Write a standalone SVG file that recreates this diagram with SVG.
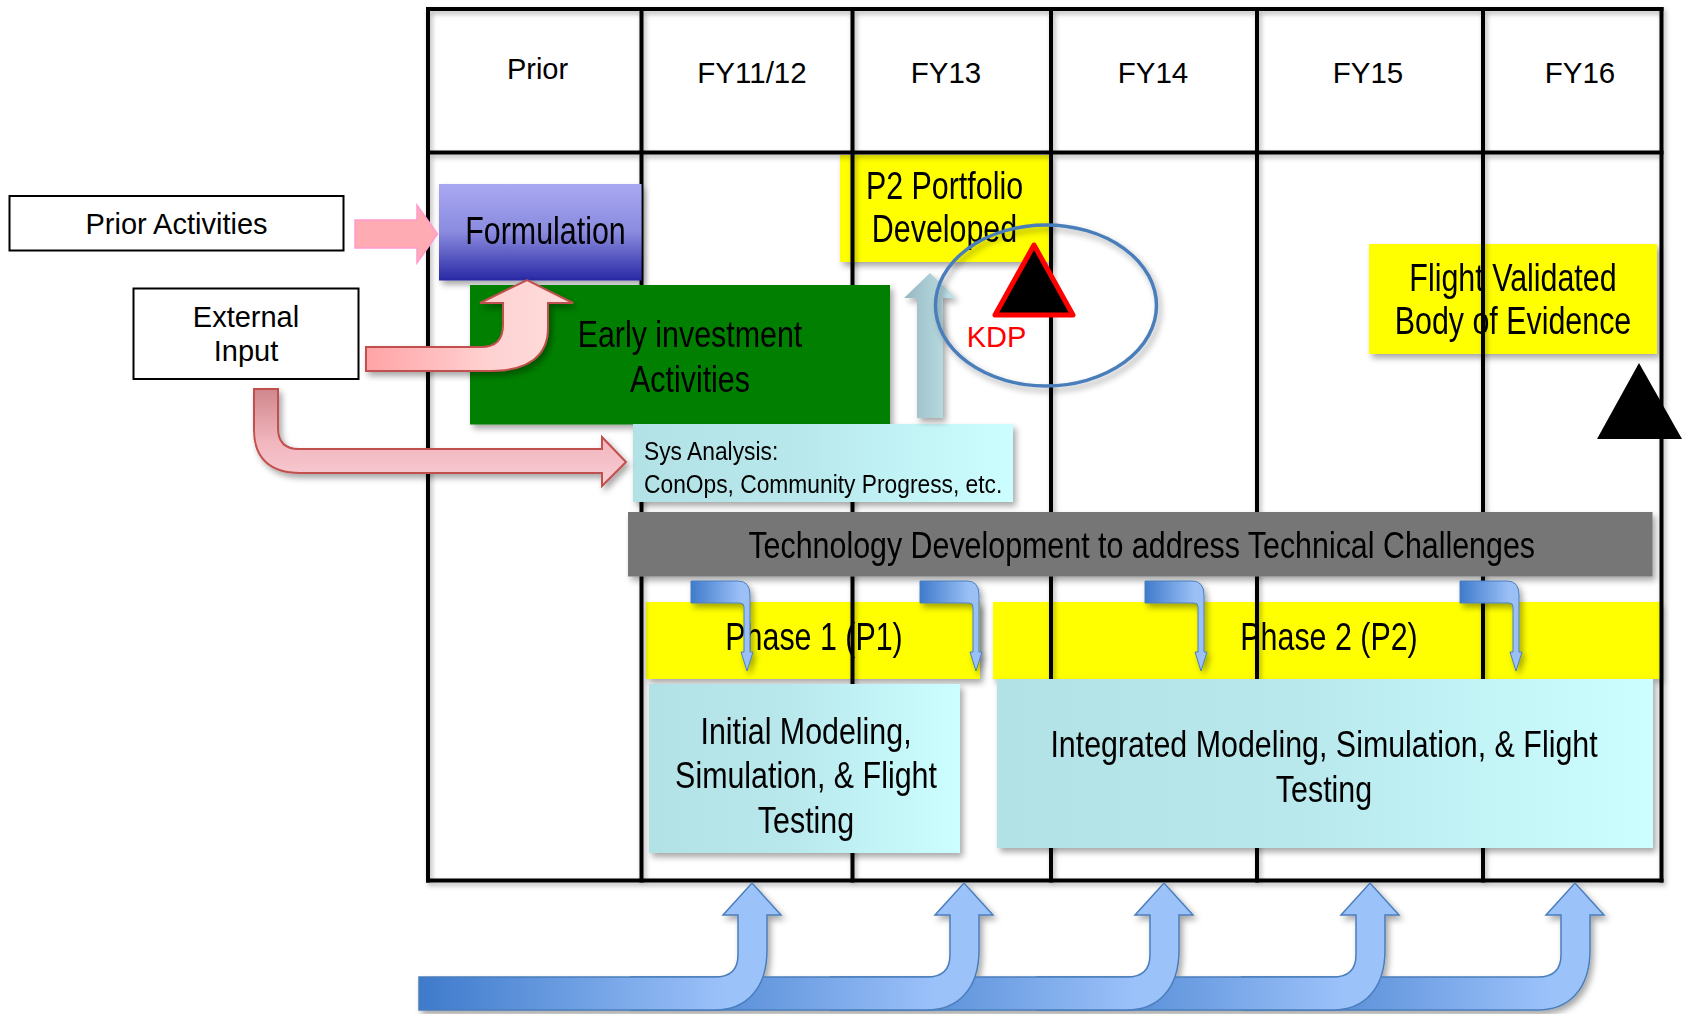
<svg xmlns="http://www.w3.org/2000/svg" width="1682" height="1014" viewBox="0 0 1682 1014">
<style>
.t{font-family:"Liberation Sans",Arial,sans-serif;fill:#000}
.h{font-size:29px;text-anchor:middle}
.b{font-size:30.4px;text-anchor:middle}
.grid line{stroke:#000;stroke-width:4;stroke-linecap:square}
.yel{fill:#FFFF00}
.lbl{fill:#fff;stroke:#000;stroke-width:2}
.blueA{fill:url(#gBlue);stroke:#4A7EBB;stroke-width:1.5}
.bent{fill:url(#gBent);stroke:#4A7EBB;stroke-width:1}
</style>
<defs>
<filter id="sh" x="-20%" y="-20%" width="150%" height="170%">
<feDropShadow dx="3" dy="4" stdDeviation="3" flood-color="#000" flood-opacity="0.35"/>
</filter>
<filter id="shl" x="-5%" y="-5%" width="115%" height="115%">
<feDropShadow dx="2" dy="3" stdDeviation="2.5" flood-color="#000" flood-opacity="0.3"/>
</filter>
<linearGradient id="gForm" x1="0" y1="0" x2="0" y2="1">
<stop offset="0" stop-color="#A8A8F2"/>
<stop offset="0.5" stop-color="#8A8ADF"/>
<stop offset="1" stop-color="#2828A4"/>
</linearGradient>
<linearGradient id="gCyan" x1="0" y1="0" x2="1" y2="0">
<stop offset="0" stop-color="#B2E2E6"/>
<stop offset="0.45" stop-color="#B8E8EC"/>
<stop offset="1" stop-color="#CCFEFF"/>
</linearGradient>
<linearGradient id="gBlue" x1="0" y1="0" x2="1" y2="0">
<stop offset="0" stop-color="#3E7ACB"/>
<stop offset="0.85" stop-color="#9CC2FA"/>
<stop offset="1" stop-color="#9CC2FA"/>
</linearGradient>
<linearGradient id="gBent" x1="0" y1="0" x2="1" y2="0">
<stop offset="0" stop-color="#3F7BCC"/>
<stop offset="0.8" stop-color="#9BC0F6"/>
<stop offset="1" stop-color="#9BC0F6"/>
</linearGradient>
<linearGradient id="gPinkH" x1="0" y1="0" x2="1" y2="0">
<stop offset="0" stop-color="#FFA3A6"/>
<stop offset="0.6" stop-color="#FFD2D2"/>
<stop offset="1" stop-color="#FFDCDC"/>
</linearGradient>
<linearGradient id="gPinkV" x1="0" y1="0" x2="0" y2="1">
<stop offset="0" stop-color="#CF878C"/>
<stop offset="0.55" stop-color="#F2B6BE"/>
<stop offset="1" stop-color="#F8CED6"/>
</linearGradient>
<linearGradient id="gUp" x1="0" y1="0" x2="1" y2="0">
<stop offset="0" stop-color="#98B8C2"/>
<stop offset="1" stop-color="#BFE4E9"/>
</linearGradient>
</defs>

<rect width="1682" height="1014" fill="#fff"/>

<!-- yellow boxes (under grid lines) -->
<g id="p2-portfolio" filter="url(#sh)">
<rect class="yel" x="840" y="155" width="209" height="107"/>
<text class="t b" transform="translate(944.5,199) scale(1,1.25)"><tspan x="0" y="0">P2 Portfolio</tspan><tspan x="0" y="34.4">Developed</tspan></text>
</g>
<g id="flight-validated" filter="url(#sh)">
<rect class="yel" x="1369" y="244" width="288" height="110"/>
<text class="t b" transform="translate(1513,290.7) scale(1,1.25)"><tspan x="0" y="0">Flight Validated</tspan><tspan x="0" y="34.9">Body of Evidence</tspan></text>
</g>
<g id="phase1" filter="url(#sh)">
<rect class="yel" x="646" y="602" width="334" height="77"/>
<text class="t b" transform="translate(814,650) scale(1,1.25)">Phase 1 (P1)</text>
</g>
<g id="phase2" filter="url(#sh)">
<rect class="yel" x="993" y="602" width="667" height="77"/>
<text class="t b" transform="translate(1329,650) scale(1,1.25)">Phase 2 (P2)</text>
</g>

<!-- timeline grid -->
<g id="grid" class="grid" filter="url(#shl)">
<line x1="428" y1="9" x2="1661.5" y2="9"/>
<line x1="428" y1="152.5" x2="1661.5" y2="152.5"/>
<line x1="428" y1="880.5" x2="1661.5" y2="880.5"/>
<line x1="428" y1="9" x2="428" y2="880.5"/>
<line x1="641.5" y1="9" x2="641.5" y2="880.5"/>
<line x1="852.5" y1="9" x2="852.5" y2="880.5"/>
<line x1="1051" y1="9" x2="1051" y2="880.5"/>
<line x1="1257" y1="9" x2="1257" y2="880.5"/>
<line x1="1483" y1="9" x2="1483" y2="880.5"/>
<line x1="1661.5" y1="9" x2="1661.5" y2="880.5"/>
</g>
<g id="headers">
<text class="t h" x="537.5" y="79">Prior</text>
<text class="t h" x="752" y="83" style="font-size:29.5px">FY11/12</text>
<text class="t h" x="946" y="83" style="font-size:29.5px">FY13</text>
<text class="t h" x="1153" y="83" style="font-size:29.5px">FY14</text>
<text class="t h" x="1368" y="83" style="font-size:29.5px">FY15</text>
<text class="t h" x="1580" y="83" style="font-size:29.5px">FY16</text>
</g>

<!-- left inputs -->
<g id="prior-activities">
<rect class="lbl" x="9.5" y="196" width="334" height="54.5"/>
<text class="t h" x="176.5" y="234">Prior Activities</text>
</g>
<g id="external-input">
<rect class="lbl" x="133.5" y="288.5" width="225" height="90.5"/>
<text class="t h" x="246" y="327">External</text>
<text class="t h" x="246" y="361">Input</text>
</g>

<!-- boxes over grid -->
<g id="formulation" filter="url(#sh)">
<rect x="439" y="184" width="202.5" height="96.5" fill="url(#gForm)"/>
<text class="t b" transform="translate(545.5,244) scale(1,1.25)">Formulation</text>
</g>
<g id="early-investment" filter="url(#sh)">
<rect x="470" y="285" width="420" height="139.5" fill="#007F00"/>
<text class="t b" transform="translate(690,346.7) scale(1,1.2)"><tspan x="0" y="0">Early investment</tspan><tspan x="0" y="37.5">Activities</tspan></text>
</g>
<g id="sys-analysis" filter="url(#sh)">
<rect x="633" y="424" width="380" height="78" fill="url(#gCyan)"/>
<text class="t" style="font-size:22.8px" transform="translate(644,460) scale(1,1.17)"><tspan x="0" y="0">Sys Analysis:</tspan><tspan x="0" y="28.2">ConOps, Community Progress, etc.</tspan></text>
</g>
<g id="tech-dev" filter="url(#sh)">
<rect x="628" y="512" width="1024.5" height="64.5" fill="#767676"/>
<text class="t b" transform="translate(1141.7,557.5) scale(1,1.2)">Technology Development to address Technical Challenges</text>
</g>
<g id="initial-modeling" filter="url(#sh)">
<rect x="649" y="684" width="311" height="169" fill="url(#gCyan)"/>
<text class="t b" transform="translate(806,743.5) scale(1,1.2)"><tspan x="0" y="0">Initial Modeling,</tspan><tspan x="0" y="37.5">Simulation, &amp; Flight</tspan><tspan x="0" y="75">Testing</tspan></text>
</g>
<g id="integrated-modeling" filter="url(#sh)">
<rect x="997" y="679" width="656" height="169" fill="url(#gCyan)"/>
<text class="t b" transform="translate(1324,757) scale(1,1.2)"><tspan x="0" y="0">Integrated Modeling, Simulation, &amp; Flight</tspan><tspan x="0" y="37.5">Testing</tspan></text>
</g>

<!-- connectors -->
<g id="connectors">
<path d="M355,220 L417,220 L417,205 L437.5,234 L417,263 L417,248 L355,248 Z" fill="#FFABB4" stroke="#FF9ACB" stroke-width="1.5"/>
<path filter="url(#sh)" d="M366,347 L481,347 Q503,347 503,325 L503,303 L480,303 L527,280 L573,303 L548,303 L548,328 C548,356 528,371 490,371 L366,371 Z" fill="url(#gPinkH)" stroke="#C0504D" stroke-width="2"/>
<path filter="url(#sh)" d="M254,389 L278,389 L278,428 Q278,449 299,449 L602,449 L602,437 L626,462 L602,486 L602,473 L300,473 C270,473 254,458 254,430 Z" fill="url(#gPinkV)" stroke="#C0504D" stroke-width="2"/>
<path filter="url(#sh)" d="M917,418 L917,298 L904,298 L930,273 L956,298 L943,298 L943,418 Z" fill="url(#gUp)"/>
<g filter="url(#sh)">
<path class="bent" transform="translate(691,581)" d="M0,0 L47,0 Q59,0 59,14 L59,71 L62,71 L56,90 L50,71 L53,71 L53,26 Q53,22 49,22 L0,22 Z"/>
<path class="bent" transform="translate(920,581)" d="M0,0 L47,0 Q59,0 59,14 L59,71 L62,71 L56,90 L50,71 L53,71 L53,26 Q53,22 49,22 L0,22 Z"/>
<path class="bent" transform="translate(1145,581)" d="M0,0 L47,0 Q59,0 59,14 L59,71 L62,71 L56,90 L50,71 L53,71 L53,26 Q53,22 49,22 L0,22 Z"/>
<path class="bent" transform="translate(1460,581)" d="M0,0 L47,0 Q59,0 59,14 L59,71 L62,71 L56,90 L50,71 L53,71 L53,26 Q53,22 49,22 L0,22 Z"/>
</g>
<g filter="url(#sh)">
<path class="blueA" transform="translate(823,0)" d="M419,977 L715,977 Q738,977 738,955 L738,915 L723,915 L752,883 L781,915 L767,915 L767,950 C767,990 745,1010 715,1010 L419,1010 Z"/>
<path class="blueA" transform="translate(618,0)" d="M419,977 L715,977 Q738,977 738,955 L738,915 L723,915 L752,883 L781,915 L767,915 L767,950 C767,990 745,1010 715,1010 L419,1010 Z"/>
<path class="blueA" transform="translate(412,0)" d="M419,977 L715,977 Q738,977 738,955 L738,915 L723,915 L752,883 L781,915 L767,915 L767,950 C767,990 745,1010 715,1010 L419,1010 Z"/>
<path class="blueA" transform="translate(212,0)" d="M419,977 L715,977 Q738,977 738,955 L738,915 L723,915 L752,883 L781,915 L767,915 L767,950 C767,990 745,1010 715,1010 L419,1010 Z"/>
<path class="blueA" d="M419,977 L715,977 Q738,977 738,955 L738,915 L723,915 L752,883 L781,915 L767,915 L767,950 C767,990 745,1010 715,1010 L419,1010 Z"/>
</g>
</g>

<!-- milestones -->
<g id="kdp">
<ellipse cx="1046" cy="305.5" rx="110.5" ry="80.5" fill="none" stroke="#4A7EBB" stroke-width="3.5" filter="url(#sh)"/>
<polygon points="1034,245 995,315 1073,315" fill="#000" stroke="#FF0000" stroke-width="5" stroke-linejoin="round"/>
<text class="t" x="996.5" y="346.5" style="font-size:29px;text-anchor:middle;fill:#FF0000">KDP</text>
</g>
<g id="final-milestone">
<polygon points="1639,363 1597,439 1682,439" fill="#000"/>
</g>
</svg>
